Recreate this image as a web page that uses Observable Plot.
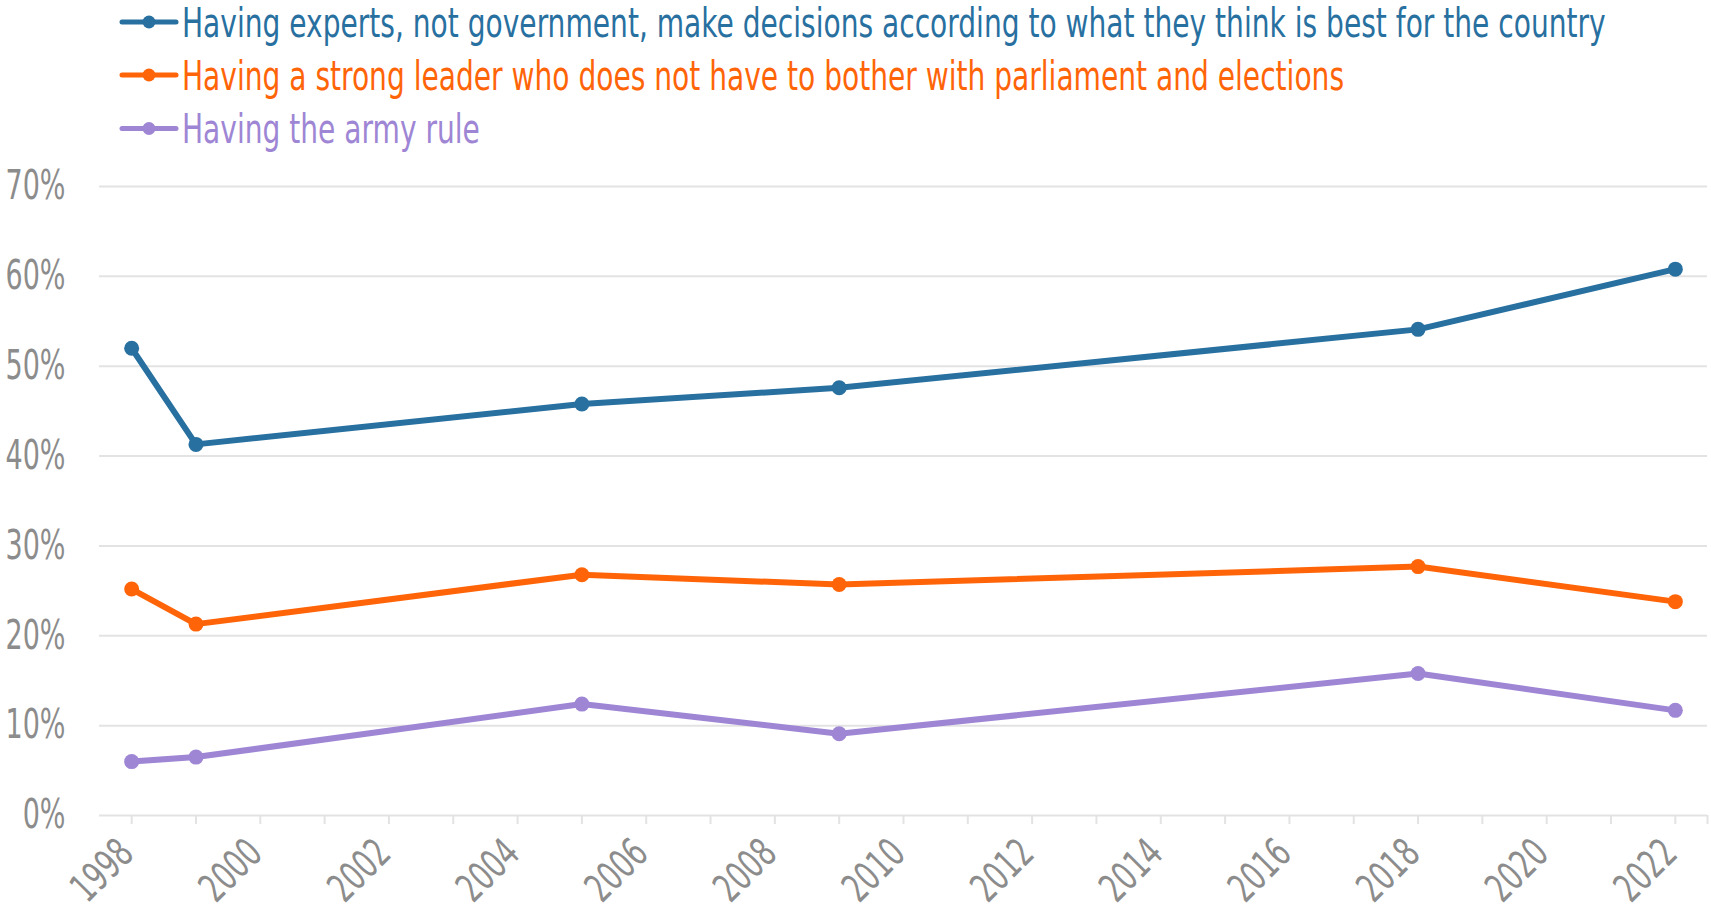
<!DOCTYPE html>
<html>
<head>
<meta charset="utf-8">
<script src="https://cdn.jsdelivr.net/npm/d3@7"></script>
<script src="https://cdn.jsdelivr.net/npm/@observablehq/plot@0.6"></script>
<style>
  html, body { margin: 0; padding: 0; background: #fff; }
  #wrap { position: relative; width: 1711px; height: 910px; overflow: hidden; }
  svg { display: block; }
</style>
</head>
<body>
<div id="wrap">
  <svg id="legend" width="1711" height="160"></svg>
  <div id="chart"></div>
</div>
<script>
const series = [
  "Having experts, not government, make decisions according to what they think is best for the country",
  "Having a strong leader who does not have to bother with parliament and elections",
  "Having the army rule"
];
const colors = ["#2870a0", "#ff6508", "#9e86d5"];
const years = [1998, 1999, 2005, 2009, 2018, 2022];
const experts = [52.0, 41.3, 45.8, 47.6, 54.1, 60.8];
const strongLeader = [25.2, 21.3, 26.8, 25.7, 27.7, 23.8];
const army = [6.0, 6.5, 12.4, 9.1, 15.8, 11.7];
const yTicks = [0, 10, 20, 30, 40, 50, 60, 70];
const xLabels = [1998, 2000, 2002, 2004, 2006, 2008, 2010, 2012, 2014, 2016, 2018, 2020, 2022];
const xTickMarks = d3.range(1998, 2023).concat([2022.5]);

const valuesBySeries = [experts, strongLeader, army];
const data = [];
series.forEach((s, i) => years.forEach((y, j) => data.push({series: s, year: y, value: valuesBySeries[i][j]})));

const FONT = "'DejaVu Sans Condensed', 'DejaVu Sans', sans-serif";

// scale a text around its own anchor point
function rescale(t, kx, ky) {
  const x = +t.getAttribute("x") || 0;
  const y = +t.getAttribute("y") || 0;
  const prev = t.getAttribute("transform") || "";
  t.setAttribute("transform", `${prev} translate(${x},${y}) scale(${kx},${ky}) translate(${-x},${-y})`.trim());
}

// legend (drawn above the plot SVG)
const legend = d3.select("#legend");
const dotYs = [22, 75, 128.5];
const legendTexts = [];
series.forEach((s, i) => {
  const g = legend.append("g");
  g.append("line").attr("x1", 122).attr("x2", 176).attr("y1", dotYs[i]).attr("y2", dotYs[i])
    .attr("stroke", colors[i]).attr("stroke-width", 5).attr("stroke-linecap", "round");
  g.append("circle").attr("cx", 149).attr("cy", dotYs[i]).attr("r", 6.5).attr("fill", colors[i]);
  const t = g.append("text").attr("x", 182).attr("y", dotYs[i] + 14.6)
    .attr("fill", colors[i]).style("font-family", FONT).style("font-size", "40px").text(s);
  legendTexts.push(t.node());
});
// pick the font size so the first line spans the same width as in the original,
// then stretch vertically back to the original glyph height
const kLeg = 1424 / legendTexts[0].getComputedTextLength();
legendTexts.forEach(t => {
  t.style.fontSize = (40 * kLeg) + "px";
  rescale(t, 1, 1 / kLeg);
});

const gray = "#8c8c8c";
const grid = "#e3e3e3";
const chart = Plot.plot({
  width: 1711,
  height: 750,
  marginTop: 26,
  marginBottom: 95,
  marginLeft: 99,
  marginRight: 4,
  style: { fontFamily: FONT, background: "#fff" },
  x: { domain: [1997.5, 2022.5] },
  y: { domain: [0, 70] },
  color: { domain: series, range: colors },
  marks: [
    Plot.gridY(yTicks, { stroke: grid, strokeOpacity: 1, strokeWidth: 2 }),
    Plot.axisY(yTicks, { tickSize: 0, tickPadding: 34, fontSize: 40, fill: gray, tickFormat: d => d + "%", label: null }),
    Plot.axisX(xTickMarks, { tickSize: 9, stroke: grid, strokeOpacity: 1, strokeWidth: 2, text: null, label: null }),
    Plot.text(xLabels, { x: d => d, y: 0, text: d => String(d), rotate: -45, textAnchor: "end", lineAnchor: "bottom", dx: 4, dy: 40, fontSize: 40, fill: gray }),
    Plot.line(data, { x: "year", y: "value", z: "series", stroke: "series", strokeWidth: 6 }),
    Plot.dot(data, { x: "year", y: "value", fill: "series", r: 7.5 })
  ]
});
document.getElementById("chart").appendChild(chart);

// narrow the tick labels to match the condensed face of the original
chart.querySelectorAll("text").forEach(t => rescale(t, 0.75, 1));
</script>
</body>
</html>
